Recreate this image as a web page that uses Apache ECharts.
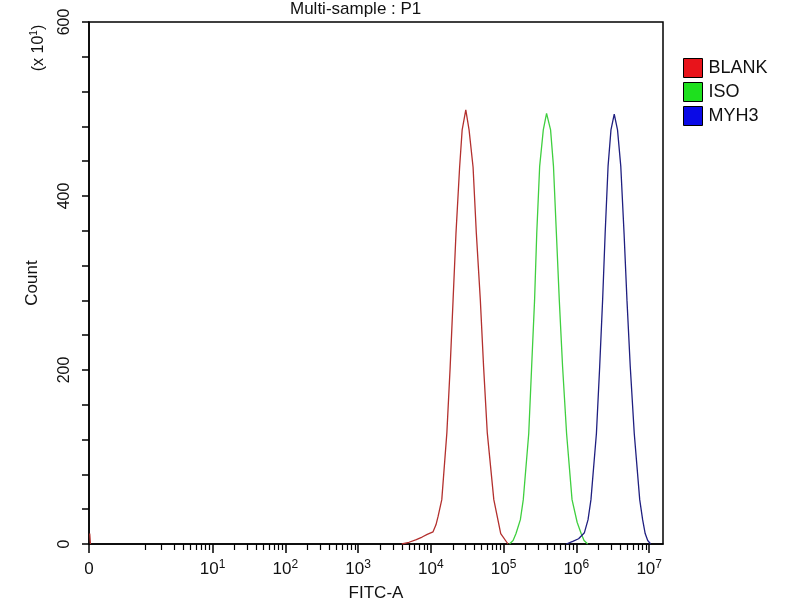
<!DOCTYPE html>
<html>
<head>
    <meta charset="UTF-8">
    <title>Multi-sample : P1</title>
    <script src="https://cdn.jsdelivr.net/npm/echarts@6/dist/echarts.min.js"></script>
    <style>
        html, body { margin: 0; padding: 0; background: #fff; }
        #chart { width: 800px; height: 600px; }
    </style>
</head>
<body>
<div id="chart"></div>
<script type="text/javascript">
    // x = log10(FITC-A), y = Count (x10)
    var zeroPos = -0.698;          // where "0" sits on the display scale
    var blankZeroCount = 12;       // events piled up at 0

    var blankX = [3.60, 3.70, 3.80, 3.88, 3.95, 4.03, 4.07, 4.10, 4.15, 4.22, 4.265, 4.305, 4.345, 4.395, 4.43, 4.48,
                  4.525, 4.58, 4.625, 4.68, 4.725, 4.775, 4.865, 4.96, 5.06];
    var blankY = [0, 2, 5, 8, 11, 14, 22, 32, 51, 128, 203, 280, 357, 433, 476, 499,
                  476, 433, 357, 280, 203, 128, 51, 12, 0];

    var isoX = [5.08, 5.13, 5.17, 5.23, 5.27, 5.345, 5.385, 5.425, 5.455, 5.495, 5.545, 5.59,
                5.645, 5.685, 5.725, 5.765, 5.81, 5.865, 5.94, 6.01, 6.065, 6.105, 6.155];
    var isoY = [0, 4, 12, 28, 51, 127, 204, 280, 357, 434, 476, 495,
                476, 434, 357, 280, 204, 127, 51, 25, 12, 4, 0];

    var myh3X = [5.86, 5.95, 6.03, 6.11, 6.16, 6.20, 6.275, 6.32, 6.36, 6.395, 6.435, 6.475, 6.52,
                 6.565, 6.61, 6.655, 6.695, 6.74, 6.795, 6.87, 6.91, 6.945, 6.98, 7.02];
    var myh3Y = [0, 3, 6, 13, 28, 51, 127, 204, 280, 357, 434, 476, 494,
                 476, 434, 357, 280, 204, 127, 51, 28, 12, 4, 0];

    var xMajor = [zeroPos, 1, 2, 3, 4, 5, 6, 7];
    var yLabels = [0, 200, 400, 600];

    var names = ['BLANK', 'ISO', 'MYH3'];
    var lineColors = ['#b3302e', '#3fcf3f', '#1f1f80'];
    var swatchColors = ['#e8141b', '#1ee01e', '#0a0ae6'];

    function pairs(xs, ys) {
        var out = [];
        for (var i = 0; i < xs.length; i++) out.push([xs[i], ys[i]]);
        return out;
    }

    // log minor ticks: 2..9 x 10^d
    var xMinor = [0.07];
    for (var d = 0; d < 7; d++) {
        for (var k = 2; k <= 9; k++) xMinor.push(d + Math.log10(k));
    }

    var blankData = [[zeroPos + 0.01, blankZeroCount], [zeroPos + 0.02, 0], '-'].concat(pairs(blankX, blankY));

    var font = 'Liberation Sans, Arial, sans-serif';
    var myChart = echarts.init(document.getElementById('chart'));

    myChart.setOption({
        animation: false,
        textStyle: { fontFamily: font, color: '#111' },
        grid: {
            left: 89, right: 137, top: 22, bottom: 56,
            outerBoundsMode: 'none', containLabel: false,
            show: true, borderColor: '#000', borderWidth: 1.5, backgroundColor: 'transparent'
        },
        graphic: [
            {
                type: 'text', left: 290, top: 1,
                style: { text: 'Multi-sample : P1', fontSize: 17, fontFamily: font, fill: '#111' }
            },
            {
                type: 'text', x: 39, y: 48, rotation: Math.PI / 2,
                style: {
                    text: '{b|(x 10}{s|1}{b|)}',
                    fontFamily: font, fill: '#111',
                    align: 'center', verticalAlign: 'middle',
                    rich: {
                        b: { fontSize: 16, fontFamily: font, lineHeight: 20 },
                        s: { fontSize: 10, fontFamily: font, verticalAlign: 'top', lineHeight: 20, padding: [0, 0, 8, 0] }
                    }
                }
            }
        ],
        legend: {
            orient: 'vertical',
            left: 678, top: 53,
            icon: 'rect',
            itemWidth: 19, itemHeight: 19, itemGap: 4,
            textStyle: { fontSize: 18, fontFamily: font, color: '#111', padding: [0, 0, 0, 1] },
            data: names.map(function (n, i) {
                return { name: n, itemStyle: { color: swatchColors[i], borderColor: '#000', borderWidth: 1 } };
            })
        },
        xAxis: [
            {
                type: 'value', min: zeroPos, max: 7.19,
                name: 'FITC-A', nameLocation: 'middle', nameGap: 41,
                nameTextStyle: { fontSize: 17, fontFamily: font, color: '#111' },
                splitLine: { show: false },
                axisLine: { onZero: false, lineStyle: { color: '#000', width: 1.5 } },
                axisTick: { customValues: xMajor, length: 9, lineStyle: { color: '#000', width: 1.5 } },
                axisLabel: {
                    customValues: xMajor, margin: 15, color: '#111',
                    formatter: function (v) {
                        if (v < 0) return '{b|0}';
                        return '{b|10}{s|' + Math.round(v) + '}';
                    },
                    rich: {
                        b: { fontSize: 17, fontFamily: font, lineHeight: 20 },
                        s: { fontSize: 12, fontFamily: font, verticalAlign: 'top', lineHeight: 20, padding: [0, 0, 8, 0] }
                    }
                }
            },
            {
                type: 'value', min: zeroPos, max: 7.19, position: 'bottom',
                splitLine: { show: false },
                axisLine: { show: false, onZero: false },
                axisLabel: { show: false },
                axisTick: { customValues: xMinor, length: 6, lineStyle: { color: '#000', width: 1.2 } }
            }
        ],
        yAxis: {
            type: 'value', min: 0, max: 600, interval: 40,
            name: 'Count', nameLocation: 'middle', nameGap: 48, nameRotate: 90,
            nameTextStyle: { fontSize: 17, fontFamily: font, color: '#111' },
            splitLine: { show: false },
            axisLine: { onZero: false, lineStyle: { color: '#000', width: 1.5 } },
            axisTick: { length: 7, lineStyle: { color: '#000', width: 1.5 } },
            axisLabel: {
                customValues: yLabels, rotate: 90, margin: 16,
                fontSize: 16, fontFamily: font, color: '#111'
            }
        },
        series: [
            { name: names[0], type: 'line', symbol: 'none', data: blankData,
              lineStyle: { color: lineColors[0], width: 1.3 }, itemStyle: { color: lineColors[0] } },
            { name: names[1], type: 'line', symbol: 'none', data: pairs(isoX, isoY),
              lineStyle: { color: lineColors[1], width: 1.3 }, itemStyle: { color: lineColors[1] } },
            { name: names[2], type: 'line', symbol: 'none', data: pairs(myh3X, myh3Y),
              lineStyle: { color: lineColors[2], width: 1.3 }, itemStyle: { color: lineColors[2] } }
        ]
    });
</script>
</body>
</html>
